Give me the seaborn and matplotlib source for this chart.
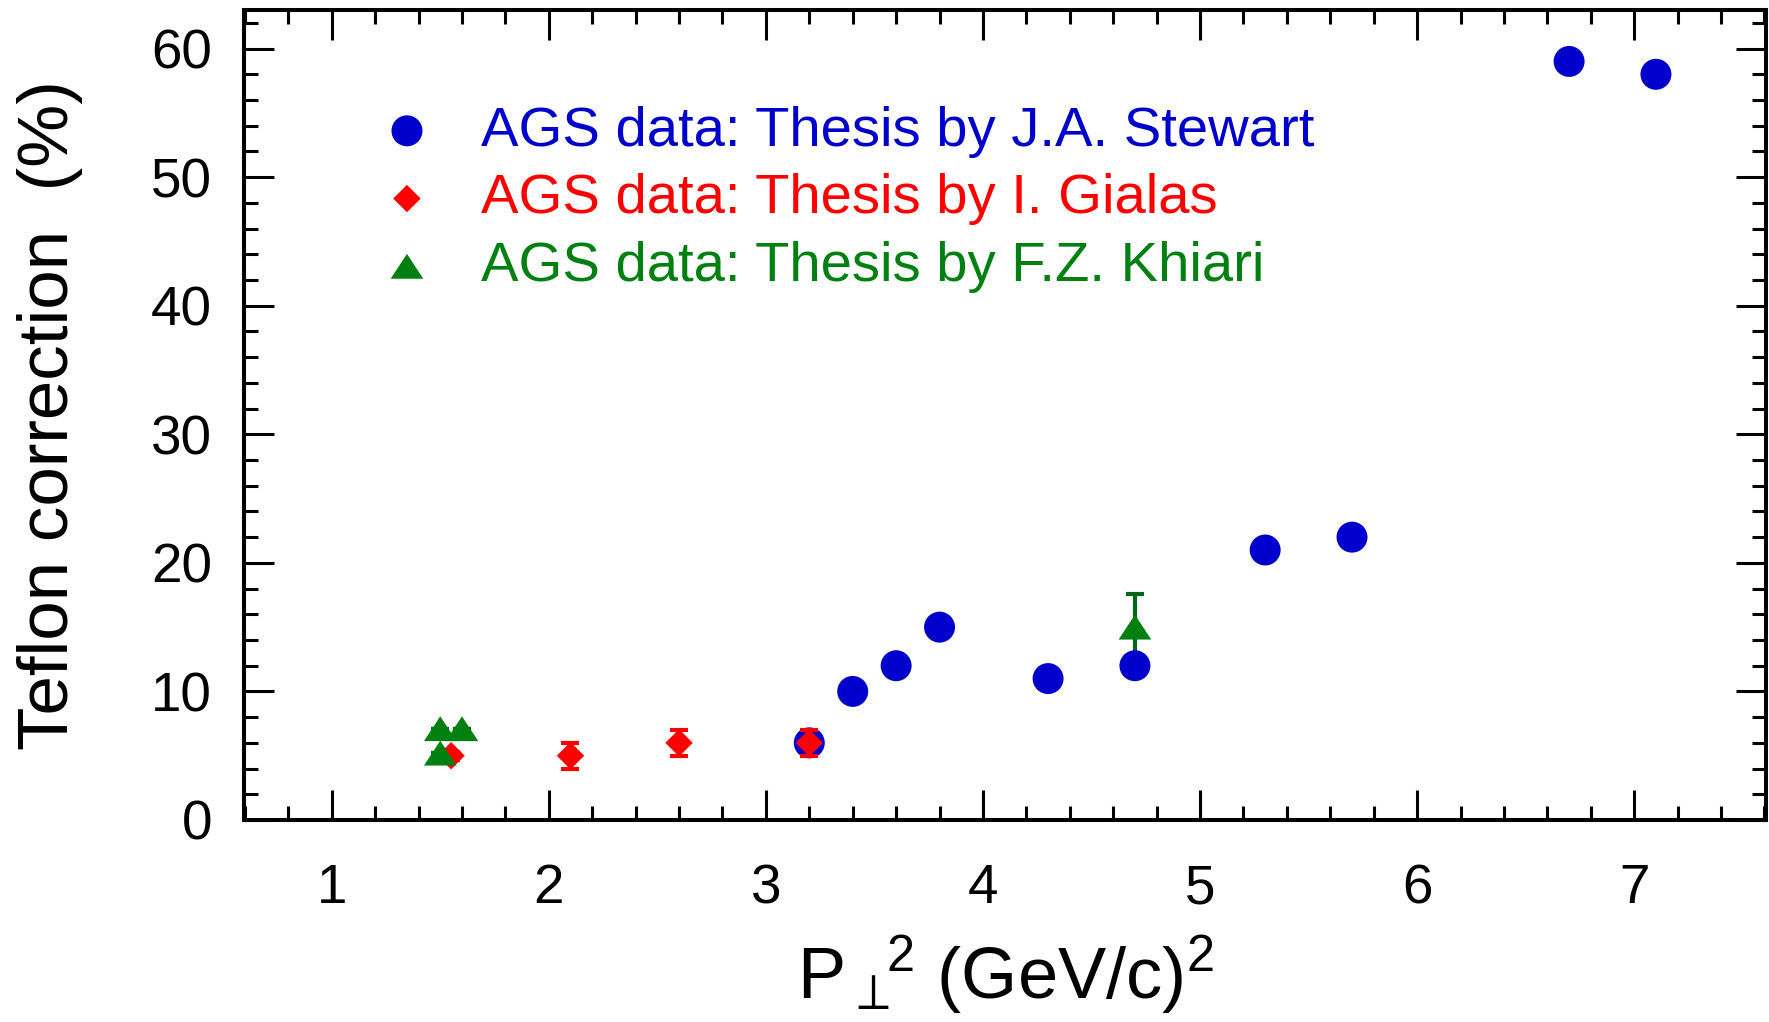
import numpy as np
import pandas as pd
import matplotlib
matplotlib.use('Agg')
import matplotlib.pyplot as plt
import seaborn as sns
from matplotlib.ticker import MultipleLocator

# data
stewart_pt2 = [3.2, 3.4, 3.6, 3.8, 4.3, 4.7, 5.3, 5.7, 6.7, 7.1]
stewart_corr = [6, 10, 12, 15, 11, 12, 21, 22, 59, 58]

gialas_pt2 = [1.55, 2.1, 2.6, 3.2]
gialas_corr = [5, 5, 6, 6]
gialas_err = [0.3, 1.0, 1.0, 1.0]

khiari_pt2 = [1.5, 1.6, 1.5, 4.7]
khiari_corr = [7.1, 7.1, 5.2, 15]
khiari_err = [0, 0, 0, 2.6]

labels = ['AGS data: Thesis by J.A. Stewart',
          'AGS data: Thesis by I. Gialas',
          'AGS data: Thesis by F.Z. Khiari']

blue = '#0000cc'
red = '#ff0000'
green = '#008010'

sns.set_theme(style='ticks')
plt.rcParams['font.family'] = ['Liberation Sans', 'DejaVu Sans']
plt.rcParams['mathtext.default'] = 'regular'
plt.rcParams['text.color'] = 'black'
plt.rcParams['axes.labelcolor'] = 'black'

fig = plt.figure(figsize=(17.69, 10.22), dpi=100)
ax = fig.add_axes([244/1769, 1 - 820/1022, 1522/1769, 810/1022])

stewart = pd.DataFrame({'pt2': stewart_pt2, 'corr': stewart_corr})
gialas = pd.DataFrame({'pt2': gialas_pt2, 'corr': gialas_corr, 'err': gialas_err})
khiari = pd.DataFrame({'pt2': khiari_pt2, 'corr': khiari_corr, 'err': khiari_err})

tri = [(-1, -0.76), (1, -0.76), (0, 0.76)]

# green error bars go under the blue circles
ax.errorbar(khiari['pt2'], khiari['corr'], yerr=khiari['err'], fmt='none',
            ecolor='#00661a', elinewidth=3, capsize=6.5, capthick=3, zorder=1)
sns.scatterplot(data=stewart, x='pt2', y='corr', marker='o', s=497, color=blue,
                edgecolor='none', label=labels[0], ax=ax, zorder=5)
ax.errorbar(gialas['pt2'], gialas['corr'], yerr=gialas['err'], fmt='none',
            ecolor=red, elinewidth=3, capsize=6.5, capthick=3, zorder=6)
sns.scatterplot(data=gialas, x='pt2', y='corr', marker='D', s=195, color=red,
                edgecolor='none', label=labels[1], ax=ax, zorder=7)
sns.scatterplot(data=khiari, x='pt2', y='corr', marker=tri, s=553, color=green,
                edgecolor='none', label=labels[2], ax=ax, zorder=8)

ax.set_xlim(0.596, 7.607)
ax.set_ylim(0, 63)
ax.xaxis.set_major_locator(MultipleLocator(1))
ax.xaxis.set_minor_locator(MultipleLocator(0.2))
ax.yaxis.set_major_locator(MultipleLocator(10))
ax.yaxis.set_minor_locator(MultipleLocator(2))
ax.tick_params(which='both', direction='in', top=True, right=True,
               width=2.2, labelsize=39.5, pad=23, color='black', labelcolor='black')
ax.tick_params(axis='x', which='both', pad=31)
ax.tick_params(which='major', length=21.5)
ax.tick_params(which='minor', length=10)
for s in ax.spines.values():
    s.set_linewidth(2.9)
    s.set_color('black')

ax.set_xlabel(r'$\mathregular{P_{\perp}{}^{\!\!2}}$ (GeV/c)$^{2}$', fontsize=52, labelpad=13)
ax.set_ylabel('Teflon correction  (%)', fontsize=51, labelpad=49)

leg = ax.legend(loc='upper left', bbox_to_anchor=(0.0886, 0.882), frameon=False,
                fontsize=40.5, handlelength=1.0, handletextpad=0.81,
                labelspacing=0.28, borderpad=0, borderaxespad=0)
for txt, c in zip(leg.get_texts(), [blue, red, green]):
    txt.set_color(c)

fig.savefig('out.png', dpi=100)
